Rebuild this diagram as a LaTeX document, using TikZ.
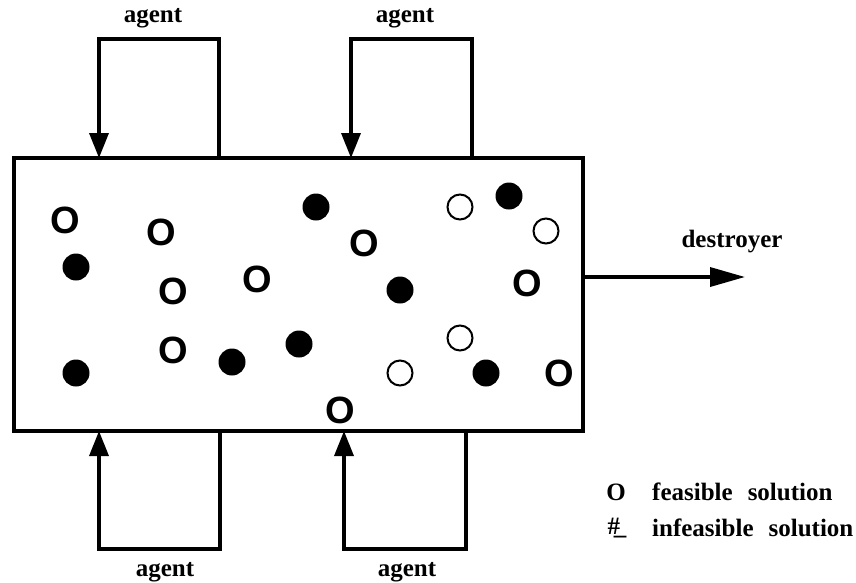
\documentclass[tikz,border=0pt]{standalone}
\usepackage{fontspec}
\setmainfont{Liberation Serif}
\newfontfamily\symfont{Liberation Sans}
\usetikzlibrary{arrows.meta}
\begin{document}
\begin{tikzpicture}[x=1pt,y=-1pt,
  lbl/.style={font=\fontsize{25}{25}\selectfont\bfseries, inner sep=0pt},
  loopline/.style={line width=3.5pt, line join=miter,
    -{Triangle[width=19pt,length=25pt]}},
  feas/.style={font=\symfont\fontsize{38}{38}\selectfont\bfseries, inner sep=0pt},
  ring/.style={circle, draw, line width=2pt, minimum size=25pt, inner sep=0pt},
  dot/.style={circle, fill, minimum size=27pt, inner sep=0pt}]
\useasboundingbox (0,0) rectangle (856,582);

% solution pool
\node[draw, line width=3.5pt, minimum width=569pt, minimum height=273pt,
      inner sep=0pt, outer sep=0pt] (pool) at (298.5,294.5) {};

% agent loops
\coordinate (ta1) at (99,39);   \coordinate (tb1) at (219,39);
\coordinate (ta2) at (351,39);  \coordinate (tb2) at (472,39);
\coordinate (ba1) at (99,549);  \coordinate (bb1) at (220,549);
\coordinate (ba2) at (344,549); \coordinate (bb2) at (466,549);
\draw[loopline] (pool.north -| tb1) -- (tb1) -- (ta1) -- (pool.north -| ta1);
\draw[loopline] (pool.north -| tb2) -- (tb2) -- (ta2) -- (pool.north -| ta2);
\draw[loopline] (pool.south -| bb1) -- (bb1) -- (ba1) -- (pool.south -| ba1);
\draw[loopline] (pool.south -| bb2) -- (bb2) -- (ba2) -- (pool.south -| ba2);
\node[lbl] (ag1) at (153,18) {agent};
\node[lbl] (ag2) at (405,18) {agent};
\node[lbl] (ag3) at (165,572) {agent};
\node[lbl] (ag4) at (407,572) {agent};

% destroyer
\coordinate (dst) at (745,277);
\draw[line width=3.5pt, -{Triangle[width=19pt,length=35pt]}] (pool.east |- dst) -- (dst);
\node[lbl] (dlab) at (732,242) {destroyer};

% solutions
\node[feas] (s1) at (65,220) {O};
\node[feas] (s2) at (161,232) {O};
\node[dot]  (s3) at (76,267) {};
\node[feas] (s4) at (173,291) {O};
\node[feas] (s5) at (257,279) {O};
\node[feas] (s6) at (173,350) {O};
\node[dot]  (s7) at (232,362) {};
\node[dot]  (s8) at (76,373) {};
\node[dot]  (s9) at (316,207) {};
\node[ring] (s10) at (460,207) {};
\node[dot]  (s11) at (509,196) {};
\node[ring] (s12) at (546,231) {};
\node[feas] (s13) at (364,243) {O};
\node[dot]  (s14) at (400,290) {};
\node[feas] (s15) at (527,283) {O};
\node[dot]  (s16) at (299,344) {};
\node[ring] (s17) at (460,338) {};
\node[ring] (s18) at (400,373) {};
\node[dot]  (s19) at (486,373) {};
\node[feas] (s20) at (559,373) {O};
\node[feas] (s21) at (340,410) {O};

% legend
\node[lbl] (k1) at (616,492) {O};
\node[lbl, anchor=west] (k1t) at (652,492) {feasible\hspace{0.6em}solution};
\node[lbl] (k2) at (617,528) {\#\kern-0.25em\_};
\node[lbl, anchor=west] (k2t) at (652,528) {infeasible\hspace{0.6em}solution};
\end{tikzpicture}
\end{document}
